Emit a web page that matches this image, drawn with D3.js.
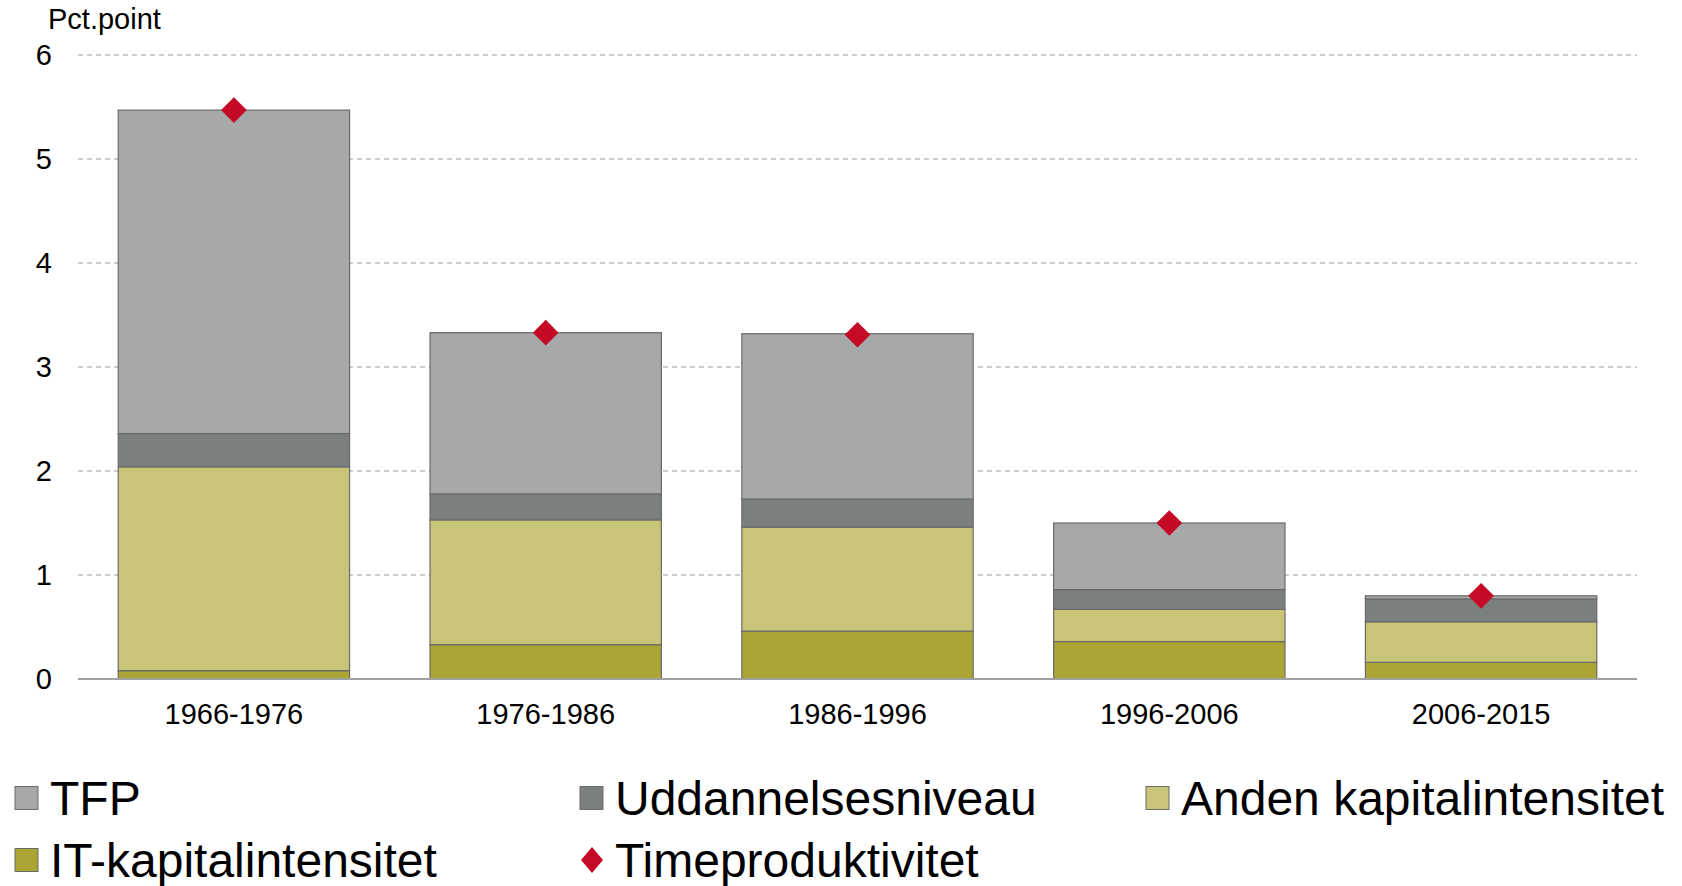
<!DOCTYPE html>
<html><head><meta charset="utf-8">
<script src="https://cdn.jsdelivr.net/npm/d3@7"></script>
<style>body{margin:0;background:#fff}svg{display:block;font-family:"Liberation Sans",Arial,sans-serif}</style>
</head><body><svg id="c" width="1682" height="886"></svg>
<script>
const categories = ["1966-1976","1976-1986","1986-1996","1996-2006","2006-2015"];
const itKapital = [0.08, 0.33, 0.46, 0.36, 0.16];
const andenKapital = [1.96, 1.20, 1.00, 0.31, 0.39];
const uddannelse = [0.32, 0.25, 0.27, 0.19, 0.22];
const tfp = [3.11, 1.55, 1.59, 0.64, 0.03];
const timeprod = [5.47, 3.33, 3.31, 1.50, 0.80];
const yTicks = [0,1,2,3,4,5,6];
const seriesNames = ["IT-kapitalintensitet","Anden kapitalintensitet","Uddannelsesniveau","TFP"];
const seriesColors = {"TFP":"#a7a8aa","Uddannelsesniveau":"#7c7f80","Anden kapitalintensitet":"#c8c578","IT-kapitalintensitet":"#aba533"};
const diamondColor = "#c40a24";

const svg = d3.select("#c");
const x = d3.scaleBand().domain(categories).range([78,1637]).paddingInner(0.258).paddingOuter(0.129);
const y = d3.scaleLinear().domain([0,6]).range([679,55]);

// grid
svg.append("g").selectAll("line").data(yTicks.filter(d=>d>0)).join("line")
  .attr("x1",78).attr("x2",1637).attr("y1",d=>y(d)).attr("y2",d=>y(d))
  .attr("stroke","#9a9a9a").attr("stroke-width",1).attr("stroke-dasharray","5,4");

// y axis labels
svg.append("g").selectAll("text").data(yTicks).join("text")
  .attr("x",52).attr("y",d=>y(d)).attr("dy","0.36em").attr("text-anchor","end")
  .attr("font-size",29).attr("fill","#000").text(d=>d);

svg.append("text").attr("x",48).attr("y",28.5).attr("font-size",29).text("Pct.point");

// stacked bars
const rows = categories.map((c,i)=>({cat:c,"IT-kapitalintensitet":itKapital[i],"Anden kapitalintensitet":andenKapital[i],"Uddannelsesniveau":uddannelse[i],"TFP":tfp[i]}));
const stacked = d3.stack().keys(seriesNames)(rows);
svg.append("g").selectAll("g").data(stacked).join("g")
  .attr("fill",d=>seriesColors[d.key])
  .selectAll("rect").data(d=>d).join("rect")
  .attr("x",d=>x(d.data.cat)).attr("width",x.bandwidth())
  .attr("y",d=>y(d[1])).attr("height",d=>y(d[0])-y(d[1]))
  .attr("stroke","#6a6a6a").attr("stroke-width",1.2);

// baseline
svg.append("line").attr("x1",78).attr("x2",1637).attr("y1",y(0)).attr("y2",y(0))
  .attr("stroke","#a0a0a0").attr("stroke-width",2);

// x labels
svg.append("g").selectAll("text").data(categories).join("text")
  .attr("x",d=>x(d)+x.bandwidth()/2).attr("y",724).attr("text-anchor","middle")
  .attr("font-size",29).text(d=>d);

// diamonds
const dsym = d3.symbol().type(d3.symbolSquare).size(330);
svg.append("g").selectAll("path").data(timeprod).join("path")
  .attr("d",dsym)
  .attr("transform",(d,i)=>`translate(${x(categories[i])+x.bandwidth()/2},${y(d)}) rotate(45)`)
  .attr("fill",diamondColor);

// legend
const legendItems = [
  {name:"TFP",x:15,y:798,type:"rect"},
  {name:"Uddannelsesniveau",x:580,y:798,type:"rect"},
  {name:"Anden kapitalintensitet",x:1146,y:798,type:"rect"},
  {name:"IT-kapitalintensitet",x:15,y:860,type:"rect"},
  {name:"Timeproduktivitet",x:580,y:860,type:"diamond"}
];
const lg = svg.append("g").selectAll("g").data(legendItems).join("g");
lg.filter(d=>d.type==="rect").append("rect")
  .attr("x",d=>d.x).attr("y",d=>d.y-11.5).attr("width",23).attr("height",23)
  .attr("fill",d=>seriesColors[d.name]).attr("stroke","#6a6a6a").attr("stroke-width",1);
lg.filter(d=>d.type==="diamond").append("path")
  .attr("d","M0,-13L11,0L0,13L-11,0Z")
  .attr("transform",d=>`translate(${d.x+12},${d.y})`).attr("fill",diamondColor);
lg.append("text").attr("x",d=>d.x+35).attr("y",d=>d.y+17).attr("font-size",48).text(d=>d.name);
</script></body></html>
